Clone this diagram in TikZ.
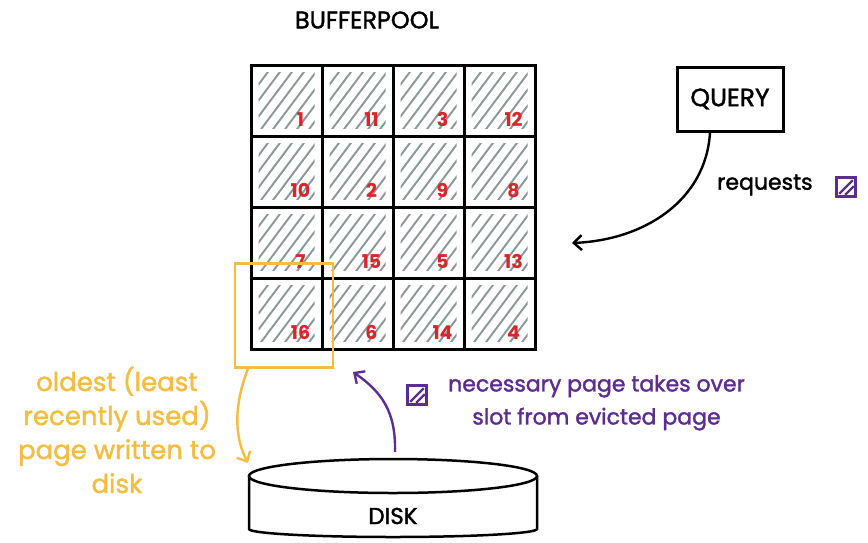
\documentclass[tikz,border=0pt]{standalone}
\usepackage{fontspec}
\setmainfont{Poppins}
\newfontfamily\markerfont{Poppins}[FakeBold=1.6]
\usetikzlibrary{arrows.meta}
\definecolor{inkred}{HTML}{D8262C}
\definecolor{inkgray}{HTML}{8C9598}
\definecolor{inkyellow}{HTML}{F2BD40}
\definecolor{inkpurple}{HTML}{5B2D8E}
\tikzset{
  cellbox/.style={draw=black, line width=3pt, minimum size=71pt, inner sep=0pt},
  pagenum/.style={text=inkred, font=\fontsize{19}{19}\selectfont\bfseries, inner sep=0pt},
  hatch/.style={draw=inkgray, line width=1.9pt, line cap=round},
  capslabel/.style={font=\markerfont\fontsize{23}{23}\selectfont, inner sep=0pt},
  handnote/.style={font=\markerfont\fontsize{22}{33}\selectfont, align=center, inner sep=0pt},
  barb/.style={-{Straight Barb[length=8pt,width=15pt]}, line width=2.4pt},
  minipage/.style={draw=inkpurple, line width=2.6pt, minimum size=19pt, inner sep=0pt},
}
\begin{document}
\begin{tikzpicture}[x=1pt, y=-1pt]
\useasboundingbox (0,0) rectangle (868,542);

% title
\node[capslabel, font=\markerfont\fontsize{24}{24}\selectfont] (title) at (367,20) {BUFFERPOOL};

% 4x4 buffer pool: hatched frames with their page numbers
\foreach \r/\row in {0/{1,11,3,12}, 1/{10,2,9,8}, 2/{7,15,5,13}, 3/{16,6,14,4}} {
  \foreach \p [count=\c from 0] in \row {
    \pgfmathsetmacro{\cx}{251+71*\c+35.5}
    \pgfmathsetmacro{\cy}{65+71*\r+35.5}
    \begin{scope}
      \clip (\cx-28,\cy-28) rectangle (\cx+28,\cy+28);
      \foreach \k in {-64,-52,...,64}
        \draw[hatch] (\cx+\k-30,\cy+40) -- (\cx+\k+30,\cy-40);
    \end{scope}
    \node[cellbox] (cell\r\c) at (\cx,\cy) {};
    \node[pagenum] (num\r\c) at (\cx+14,\cy+19) {\p};
  }
}

% evicted frame marker
\node[draw=inkyellow, line width=2.3pt, minimum width=98pt, minimum height=104pt, inner sep=0pt]
  (evict) at (284,315.5) {};

% query
\node[draw=black, line width=3pt, minimum width=106pt, minimum height=64pt, inner sep=0pt,
      capslabel, font=\markerfont\fontsize{25}{25}\selectfont] (query) at (730,99) {QUERY};
\coordinate (qend) at (572,243);
\draw[barb] (query.south -| 710,0) .. controls (706,200) and (645,240) .. (qend);
\node[handnote, anchor=west] (req) at (717,185) {requests};
\node[minipage] (reqpage) at (846,187) {};
\draw[inkpurple, line width=2.4pt] ([shift={(4,-4)}]reqpage.south west) -- ([shift={(-4,4)}]reqpage.north east)
  ([shift={(10,-3)}]reqpage.south west) -- ([shift={(-3,10)}]reqpage.north east);

% disk cylinder
\draw[line width=2.5pt, fill=white]
  (249,476) -- (249,529) arc[start angle=180, end angle=0, x radius=144, y radius=8]
  -- (537,476);
\draw[line width=2.5pt] (393,476) ellipse[x radius=144, y radius=17];
\node[capslabel] (disk) at (393,516) {DISK};
\coordinate (disktop) at (395,452);

% write-back of the evicted page
\coordinate (wend) at (248,463);
\draw[barb, inkyellow] (evict.south -| 248,0) .. controls (232,410) and (236,440) .. (wend);
\node[handnote, text=inkyellow, font=\markerfont\fontsize{26}{34}\selectfont] (wnote) at (117,430)
  {oldest (least\\recently used)\\page written to\\disk};

% read of the requested page
\coordinate (rend) at (353,372);
\draw[barb, inkpurple] (disktop) .. controls (396,412) and (382,392) .. (rend);
\node[minipage] (newpage) at (417,395) {};
\draw[inkpurple, line width=2.4pt] ([shift={(4,-4)}]newpage.south west) -- ([shift={(-4,4)}]newpage.north east)
  ([shift={(10,-3)}]newpage.south west) -- ([shift={(-3,10)}]newpage.north east);
\node[handnote, text=inkpurple, anchor=north west] (rnote) at (448,375)
  {necessary page takes over\\slot from evicted page};
\end{tikzpicture}
\end{document}
